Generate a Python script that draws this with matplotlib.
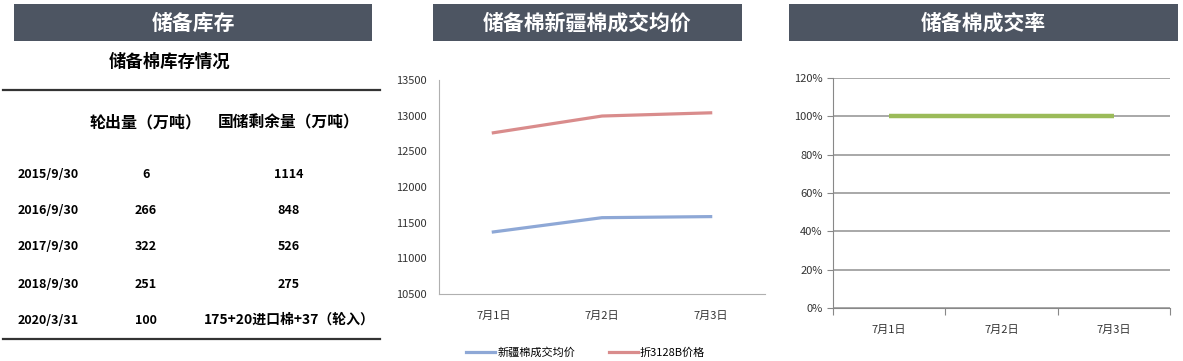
import matplotlib
matplotlib.use("Agg")
import matplotlib.pyplot as plt
from matplotlib.patches import Rectangle
from matplotlib.ticker import FuncFormatter

plt.rcParams['font.family'] = ['Noto Sans CJK SC', 'DejaVu Sans']

# table data
table_title = "储备棉库存情况"
col_heads = ["轮出量（万吨）", "国储剩余量（万吨）"]
row_dates = ["2015/9/30", "2016/9/30", "2017/9/30", "2018/9/30", "2020/3/31"]
lunchu = ["6", "266", "322", "251", "100"]
shengyu = ["1114", "848", "526", "275", "175+20进口棉+37（轮入）"]

# price chart data
days = ["7月1日", "7月2日", "7月3日"]
xj_price = [11370, 11570, 11585]
b3128_price = [12760, 12995, 13040]

# deal rate data
deal_rate = [1.0, 1.0, 1.0]

W, H = 1183, 361
fig = plt.figure(figsize=(W / 100, H / 100), dpi=100)
fig.patch.set_facecolor("white")

# overlay in pixel coordinates for header bars and the table
ov = fig.add_axes([0, 0, 1, 1])
ov.set_xlim(0, W)
ov.set_ylim(H, 0)
ov.axis("off")

bar_col = "#4d5562"
headers = [("储备库存", 14, 372), ("储备棉新疆棉成交均价", 433, 742), ("储备棉成交率", 789, 1178)]
for txt, x0, x1 in headers:
    ov.add_patch(Rectangle((x0, 4), x1 - x0, 37, color=bar_col, lw=0))
    ov.text((x0 + x1) / 2, 23, txt, color="white", fontsize=15, fontweight="bold",
            ha="center", va="center")

ov.text(170, 62, table_title, fontsize=12.5, fontweight="bold", ha="center", va="center")
ov.plot([3, 380], [90, 90], color="#333333", lw=1.6)
ov.plot([3, 380], [339, 339], color="#333333", lw=1.6)
ov.text(146, 122, col_heads[0], fontsize=11.5, fontweight="bold", ha="center", va="center")
ov.text(289, 122, col_heads[1], fontsize=11.3, fontweight="bold", ha="center", va="center")

row_y = [175, 211, 247, 284, 320]
for y, d, a, b in zip(row_y, row_dates, lunchu, shengyu):
    ov.text(48, y, d, fontsize=9, fontweight="bold", ha="center", va="center")
    ov.text(146, y, a, fontsize=9, fontweight="bold", ha="center", va="center")
    ov.text(289, y, b, fontsize=9 if b.isdigit() else 10, fontweight="bold",
            ha="center", va="center")


def pix_axes(x0, x1, y0, y1):
    return fig.add_axes([x0 / W, (H - y1) / H, (x1 - x0) / W, (y1 - y0) / H])


# middle: price lines
ax1 = pix_axes(439, 765, 80, 294)
x = list(range(len(days)))
ax1.plot(x, xj_price, color="#8ea8d6", lw=2.3, label="新疆棉成交均价")
ax1.plot(x, b3128_price, color="#d98c8c", lw=2.3, label="折3128B价格")
ax1.set_xlim(-0.5, 2.5)
ax1.set_ylim(10500, 13500)
ax1.set_yticks(range(10500, 13501, 500))
ax1.set_xticks(x)
ax1.set_xticklabels(days)
for s in ["top", "right"]:
    ax1.spines[s].set_visible(False)
for s in ["left", "bottom"]:
    ax1.spines[s].set_color("#b0b0b0")
ax1.tick_params(axis="both", length=0, labelsize=8, colors="#333333")
ax1.tick_params(axis="y", pad=9)
ax1.tick_params(axis="x", pad=12)
ax1.legend(loc="upper center", bbox_to_anchor=(0.45, -0.2), ncol=2, frameon=False,
           fontsize=8, handlelength=2.6, columnspacing=3, handletextpad=0.2)

# right: deal rate
ax2 = pix_axes(833, 1170, 78, 308)
ax2.plot(x, deal_rate, color="#9bbb59", lw=3.2, solid_capstyle="butt")
ax2.set_xlim(-0.5, 2.5)
ax2.set_ylim(0, 1.2)
ax2.set_yticks([i * 0.2 for i in range(7)])
ax2.yaxis.set_major_formatter(FuncFormatter(lambda v, p: f"{round(v * 100)}%"))
ax2.grid(axis="y", color="#999999", lw=1.2)
ax2.set_axisbelow(True)
ax2.set_xticks([-0.5, 0.5, 1.5, 2.5])
ax2.set_xticklabels([])
ax2.set_xticks(x, minor=True)
ax2.set_xticklabels(days, minor=True)
ax2.tick_params(axis="x", which="major", length=5, color="#888888", direction="out")
ax2.tick_params(axis="x", which="minor", length=0, labelsize=8, pad=12, colors="#333333")
ax2.tick_params(axis="y", length=4, color="#888888", labelsize=8, colors="#333333")
for s in ["top", "right"]:
    ax2.spines[s].set_visible(False)
for s in ["left", "bottom"]:
    ax2.spines[s].set_color("#888888")

fig.savefig("out.png", dpi=100)
